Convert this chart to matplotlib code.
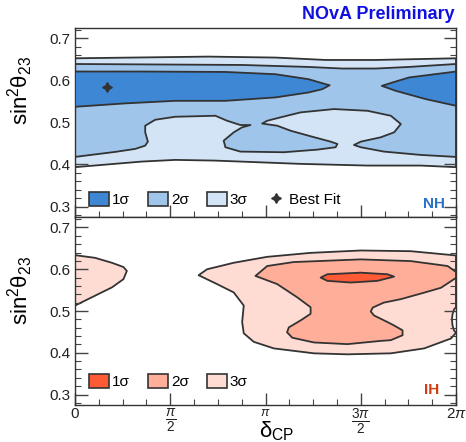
import numpy as np
import matplotlib
matplotlib.use("Agg")
import matplotlib.pyplot as plt
from matplotlib.patches import Patch
from matplotlib.lines import Line2D
from matplotlib.ticker import MultipleLocator, FixedLocator

plt.rcParams['font.family'] = ['Liberation Sans', 'DejaVu Sans']
plt.rcParams['mathtext.fontset'] = 'custom'
plt.rcParams['mathtext.rm'] = 'Liberation Sans'
plt.rcParams['mathtext.it'] = 'Liberation Sans:italic'
plt.rcParams['mathtext.bf'] = 'Liberation Sans:bold'

# ---------------- data (delta_CP in units of pi, sin^2 theta23) ----------------
# Normal hierarchy
nh3_top_d = [0.0, 0.70, 1.053, 1.316, 1.579, 2.0]
nh3_top_s = [0.6526, 0.6566, 0.6543, 0.6486, 0.6486, 0.6526]
nh3_bot_d = [0.0, 0.351, 0.526, 0.737, 1.184, 1.535, 1.816, 2.0]
nh3_bot_s = [0.3936, 0.4069, 0.4109, 0.4092, 0.4014, 0.3974, 0.3974, 0.3936]

nh2_top_d = [0.0, 0.877, 1.226, 1.404, 1.579, 1.753, 2.0]
nh2_top_s = [0.6390, 0.6367, 0.6320, 0.6282, 0.6282, 0.6320, 0.6390]
nh2_bot_d = [0.0, 0.2105, 0.3158, 0.3684, 0.3826, 0.3684, 0.3684, 0.4211, 0.5263,
             0.7368, 0.7984, 0.8684, 0.9211, 0.8774, 0.8332, 0.7805, 0.7895, 0.8684,
             1.0963, 1.2721, 1.3684, 1.3774, 1.3421, 1.2368, 1.1316, 1.0616, 1.0,
             0.9826, 1.0089, 1.0789, 1.1842, 1.3595, 1.5353, 1.6579, 1.7105, 1.6753,
             1.6053, 1.5, 1.4647, 1.5, 1.6226, 1.8158, 2.0]
nh2_bot_s = [0.4180, 0.4299, 0.4370, 0.4448, 0.4543, 0.4765, 0.4922, 0.5064, 0.5135,
             0.5159, 0.5040, 0.4938, 0.4938, 0.4884, 0.4765, 0.4566, 0.4410, 0.4306,
             0.4291, 0.4353, 0.4410, 0.4488, 0.4543, 0.4671, 0.4803, 0.4922, 0.4962,
             0.4974, 0.5040, 0.5121, 0.5239, 0.5318, 0.5277, 0.5159, 0.4962, 0.4765,
             0.4647, 0.4543, 0.4464, 0.4410, 0.4306, 0.4227, 0.4180]

nh1a_d = [0.0, 0.351, 0.7895, 1.0526, 1.2263, 1.3158, 1.3368, 1.2984, 1.2263,
          1.0526, 0.7895, 0.5263, 0.2632, 0.0]
nh1a_s = [0.6211, 0.6211, 0.6201, 0.6147, 0.6028, 0.5910, 0.5886, 0.5791, 0.5713,
          0.5595, 0.5514, 0.5514, 0.5453, 0.5372]
nh1b_d = [2.0, 1.7526, 1.6668, 1.6105, 1.6842, 1.8421, 2.0]
nh1b_s = [0.6211, 0.6069, 0.5950, 0.5870, 0.5751, 0.5554, 0.5396]

nh_best_d = [0.167]
nh_best_s = [0.584]

# Inverted hierarchy
ih3a_d = [0.0, 0.1053, 0.1932, 0.2542, 0.2721, 0.2542, 0.1932, 0.1053, 0.0]
ih3a_s = [0.6337, 0.6273, 0.6155, 0.6053, 0.5959, 0.5762, 0.5564, 0.5367, 0.5130]
ih3b_d = [0.6489, 0.6932, 0.8332, 1.0089, 1.2368, 1.5, 1.7632, 2.0, 2.0, 1.9895,
          1.9816, 1.9789, 1.9816, 1.9895, 2.0, 1.9737, 1.8332, 1.6579, 1.43, 1.2542,
          1.0437, 0.9384, 0.8858, 0.8774, 0.8858, 0.8332, 0.7458]
ih3b_s = [0.5857, 0.5999, 0.6155, 0.6297, 0.6392, 0.6449, 0.6432, 0.6330, 0.5090,
          0.5036, 0.4917, 0.4799, 0.4657, 0.4538, 0.4479, 0.4342, 0.4105, 0.3987,
          0.3963, 0.3987, 0.4105, 0.4262, 0.4467, 0.4735, 0.5130, 0.5445, 0.5644]
ih2_d = [0.9474, 1.0089, 1.1474, 1.5, 1.7632, 1.9563, 2.0, 2.0, 1.9211, 1.8316,
         1.7105, 1.6211, 1.5632, 1.5526, 1.57, 1.6405, 1.6737, 1.7195, 1.7195,
         1.6579, 1.6053, 1.43, 1.2542, 1.1405, 1.1132, 1.1226, 1.1842, 1.2368,
         1.2368, 1.1668, 1.0616]
ih2_s = [0.5840, 0.6077, 0.6172, 0.6236, 0.6195, 0.6077, 0.5935, 0.5793, 0.5556,
         0.5438, 0.5284, 0.5201, 0.5083, 0.4988, 0.4893, 0.4735, 0.4657, 0.4538,
         0.4420, 0.4302, 0.4285, 0.4207, 0.4247, 0.4361, 0.4491, 0.4609, 0.4775,
         0.4934, 0.5090, 0.5327, 0.5644]
ih1_d = [1.2895, 1.3247, 1.5, 1.64, 1.675, 1.5879, 1.4474, 1.3247]
ih1_s = [0.5800, 0.5880, 0.5918, 0.5880, 0.5824, 0.5722, 0.5682, 0.5722]

x_ticks = [0.0, 0.5, 1.0, 1.5, 2.0]
x_ticklabels = ['0', r'$\frac{\pi}{2}$', r'$\pi$', r'$\frac{3\pi}{2}$', r'$2\pi$']
y_ticks = [0.3, 0.4, 0.5, 0.6, 0.7]
legend_labels = ['1σ', '2σ', '3σ']

# ---------------- style ----------------
nh_cols = ['#3d87d4', '#a0c5eb', '#d3e4f6']
ih_cols = ['#ff5a36', '#ffae99', '#ffdcd3']
edge = '#333333'
lw = 1.3

fig = plt.figure(figsize=(4.66, 4.42), dpi=100)
ax1 = fig.add_axes([0.161, 0.509, 0.8175, 0.428])
ax2 = fig.add_axes([0.161, 0.0837, 0.8175, 0.4253])


def poly(ax, d, s, col, z):
    ax.fill(d, s, facecolor=col, edgecolor=edge, linewidth=lw, zorder=z,
            joinstyle='round')


# NH
poly(ax1, nh3_top_d + nh3_bot_d[::-1], nh3_top_s + nh3_bot_s[::-1], nh_cols[2], 1)
poly(ax1, nh2_top_d + nh2_bot_d[::-1], nh2_top_s + nh2_bot_s[::-1], nh_cols[1], 2)
poly(ax1, nh1a_d, nh1a_s, nh_cols[0], 3)
poly(ax1, nh1b_d, nh1b_s, nh_cols[0], 3)
ax1.plot(nh_best_d, nh_best_s, linestyle='none', marker=(4, 1, 0), ms=7,
         color='#333333', zorder=5)

# IH
poly(ax2, ih3a_d, ih3a_s, ih_cols[2], 1)
poly(ax2, ih3b_d, ih3b_s, ih_cols[2], 1)
poly(ax2, ih2_d, ih2_s, ih_cols[1], 2)
poly(ax2, ih1_d, ih1_s, ih_cols[0], 3)

for ax in (ax1, ax2):
    ax.set_xlim(0, 2)
    ax.set_ylim(0.275, 0.725)
    ax.xaxis.set_major_locator(FixedLocator(x_ticks))
    ax.xaxis.set_minor_locator(MultipleLocator(0.125))
    ax.yaxis.set_major_locator(FixedLocator(y_ticks))
    ax.yaxis.set_minor_locator(MultipleLocator(0.02))
    ax.tick_params(which='both', direction='in', left=True, right=True,
                   bottom=True, top=False, colors='#444444', labelcolor='#222222')
    ax.tick_params(which='major', length=9, width=1.0, labelsize=11)
    ax.tick_params(which='minor', length=4.5, width=0.8)
    ax.set_yticklabels([f'{v:.1f}' for v in y_ticks])
    for sp in ax.spines.values():
        sp.set_color('#333333')
        sp.set_linewidth(1.0)
    ax.set_ylabel(r'$\mathrm{sin^2\theta_{23}}$', fontsize=16)

ax1.yaxis.set_label_coords(-0.105, 0.67)
ax2.yaxis.set_label_coords(-0.105, 0.61)
ax1.set_xticklabels([])
ax2.set_xticklabels(x_ticklabels)
for lab in ax2.get_xticklabels():
    lab.set_fontsize(14)
ax2.get_xticklabels()[0].set_fontsize(11)
ax2.get_xticklabels()[2].set_fontsize(9)
ax2.get_xticklabels()[4].set_fontsize(11)
ax2.tick_params(axis='x', pad=1.5)
ax2.set_xlabel(r'$\mathrm{\delta_{CP}}$', fontsize=16)
ax2.xaxis.set_label_coords(0.53, -0.078)

# Legends
h1 = [Patch(facecolor=c, edgecolor=edge, linewidth=1.2) for c in nh_cols]
h1.append(Line2D([], [], linestyle='none', marker=(4, 1, 0), ms=7, color='#333333'))
ax1.legend(h1, legend_labels + ['Best Fit'], ncol=4, loc='lower left',
           bbox_to_anchor=(0.02, 0.02), frameon=False, fontsize=11,
           handlelength=1.3, handleheight=1.0, handletextpad=0.2,
           columnspacing=1.2, borderaxespad=0)
h2 = [Patch(facecolor=c, edgecolor=edge, linewidth=1.2) for c in ih_cols]
ax2.legend(h2, legend_labels, ncol=3, loc='lower left',
           bbox_to_anchor=(0.02, 0.05), frameon=False, fontsize=11,
           handlelength=1.3, handleheight=1.0, handletextpad=0.2,
           columnspacing=1.2, borderaxespad=0)

ax1.text(0.97, 0.03, 'NH', transform=ax1.transAxes, ha='right', va='bottom',
         fontsize=11, fontweight='bold', color='#2a73c9')
ax2.text(0.955, 0.045, 'IH', transform=ax2.transAxes, ha='right', va='bottom',
         fontsize=11, fontweight='bold', color='#d23c12')
fig.text(0.976, 0.968, 'NOvA Preliminary', ha='right', va='center',
         fontsize=13, fontweight='bold', color='#1010e0')

fig.savefig('out.png', dpi=100)
